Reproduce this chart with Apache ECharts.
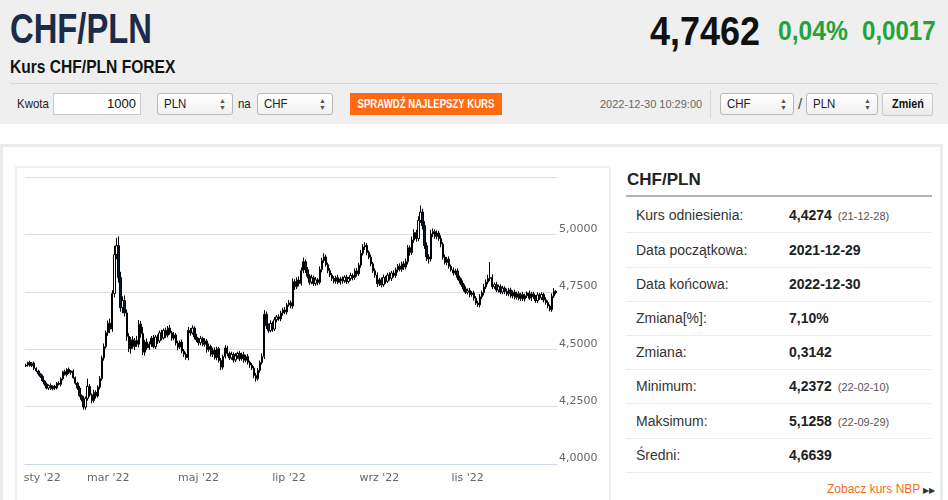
<!DOCTYPE html>
<html lang="pl">
<head>
<meta charset="UTF-8">
<title>CHF/PLN</title>
<style>
  body { margin: 0; padding: 0; width: 948px; height: 500px; overflow: hidden; background: #fff; font-family: 'Liberation Sans', Arial, sans-serif; position: relative; }
  .abs { position: absolute; white-space: nowrap; }
  .nw { display: inline-block; transform-origin: 0 50%; white-space: nowrap; }
  #head { left: 0; top: 0; width: 948px; height: 124px; background: #efefef; }
  .sel { height: 20px; border: 1px solid #b9b9b9; border-radius: 3px; background: linear-gradient(#ffffff, #f1f1f1); font-size: 13px; line-height: 20px; color: #222; }
  .sel span { position: absolute; left: 6px; top: 0; transform: scaleX(0.88); transform-origin: 0 50%; }
  .sel i { position: absolute; right: 6px; top: 3px; font-style: normal; font-size: 7px; line-height: 7px; color: #555; }
  #panel .row { position: absolute; left: 626px; width: 306px; height: 34px; border-bottom: 1px solid #ececec; font-size: 14px; color: #333; }
  #panel .row .l { position: absolute; left: 10px; top: 9px; }
  #panel .row .v { position: absolute; left: 163px; top: 9px; font-weight: bold; color: #222; }
  #panel .row .d { font-size: 11px; font-weight: normal; color: #555; margin-left: 6px; }
  #chart { position: absolute; left: 0; top: 0; width: 948px; height: 500px; }
</style>
</head>
<body>
<div id="head" class="abs">
  <div class="abs" style="left:10px;top:5px;font-size:42px;font-weight:bold;color:#1b2b48;"><span class="nw" style="transform:scaleX(0.78);">CHF/PLN</span></div>
  <div class="abs" style="left:10px;top:56px;font-size:19px;font-weight:bold;color:#111;"><span class="nw" style="transform:scaleX(0.82);">Kurs CHF/PLN FOREX</span></div>
  <div class="abs" style="left:650px;top:9px;font-size:40px;font-weight:bold;color:#111;"><span class="nw" style="transform:scaleX(0.9);">4,7462</span></div>
  <div class="abs" style="left:778px;top:15px;font-size:28px;font-weight:bold;color:#23a33a;"><span class="nw" style="transform:scaleX(0.88);">0,04%</span></div>
  <div class="abs" style="left:862px;top:15px;font-size:28px;font-weight:bold;color:#23a33a;"><span class="nw" style="transform:scaleX(0.86);">0,0017</span></div>
  <div class="abs" style="left:10px;top:83px;width:928px;height:1px;background:#d6d6d6;"></div>

  <div class="abs" style="left:17px;top:96px;font-size:13px;color:#222;"><span class="nw" style="transform:scaleX(0.88);">Kwota</span></div>
  <div class="abs" style="left:53px;top:93px;width:86px;height:20px;background:#fff;border:1px solid #c9c9c9;font-size:13px;line-height:20px;color:#111;"><span class="abs" style="right:4px;top:0;">1000</span></div>
  <div class="abs sel" style="left:157px;top:93px;width:74px;"><span>PLN</span><i>▲<br>▼</i></div>
  <div class="abs" style="left:238px;top:96px;font-size:13px;color:#222;"><span class="nw" style="transform:scaleX(0.88);">na</span></div>
  <div class="abs sel" style="left:257px;top:93px;width:74px;"><span>CHF</span><i>▲<br>▼</i></div>
  <div class="abs" style="left:350px;top:93px;width:152px;height:22px;background:#ff6a13;color:#fff;font-size:12px;font-weight:bold;line-height:22px;"><span class="abs" style="left:50%;top:0;transform:translateX(-50%) scaleX(0.8);">SPRAWDŹ NAJLEPSZY KURS</span></div>
  <div class="abs" style="left:600px;top:98px;font-size:11px;color:#666;">2022-12-30 10:29:00</div>
  <div class="abs" style="left:710px;top:90px;width:1px;height:28px;background:#d8d8d8;"></div>
  <div class="abs sel" style="left:720px;top:93px;width:72px;"><span>CHF</span><i>▲<br>▼</i></div>
  <div class="abs" style="left:798px;top:95px;font-size:15px;color:#444;">/</div>
  <div class="abs sel" style="left:806px;top:93px;width:70px;"><span>PLN</span><i>▲<br>▼</i></div>
  <div class="abs" style="left:882px;top:93px;width:49px;height:21px;border:1px solid #c9c9c9;border-radius:2px;background:linear-gradient(#fdfdfd,#e9e9e9);font-size:12px;font-weight:bold;line-height:21px;color:#111;"><span class="abs" style="left:50%;top:0;transform:translateX(-50%) scaleX(0.9);">Zmień</span></div>
</div>

<div class="abs" style="left:0;top:144px;width:943px;height:356px;border-top:3px solid #ebebeb;border-left:3px solid #ebebeb;border-right:3px solid #ebebeb;box-sizing:border-box;"></div>
<div class="abs" style="left:15px;top:166px;width:596px;height:340px;border:2px solid #f1f1f1;box-sizing:border-box;"></div>

<div id="panel">
  <div class="abs" style="left:627px;top:170px;font-size:17px;font-weight:bold;color:#222;">CHF/PLN</div>
  <div class="abs" style="left:626px;top:195px;width:306px;height:2px;background:#b4b4b4;"></div>
  <div class="row" style="top:198px;"><span class="l">Kurs odniesienia:</span><span class="v">4,4274<span class="d">(21-12-28)</span></span></div>
  <div class="row" style="top:233px;"><span class="l">Data początkowa:</span><span class="v">2021-12-29</span></div>
  <div class="row" style="top:267px;"><span class="l">Data końcowa:</span><span class="v">2022-12-30</span></div>
  <div class="row" style="top:301px;"><span class="l">Zmiana[%]:</span><span class="v">7,10%</span></div>
  <div class="row" style="top:335px;"><span class="l">Zmiana:</span><span class="v">0,3142</span></div>
  <div class="row" style="top:369px;"><span class="l">Minimum:</span><span class="v">4,2372<span class="d">(22-02-10)</span></span></div>
  <div class="row" style="top:404px;"><span class="l">Maksimum:</span><span class="v">5,1258<span class="d">(22-09-29)</span></span></div>
  <div class="row" style="top:438px;"><span class="l">Średni:</span><span class="v">4,6639</span></div>
  <div class="abs" style="left:827px;top:482px;font-size:12px;color:#f26b1d;">Zobacz kurs NBP <span style="color:#333;font-size:8px;">▶▶</span></div>
</div>

<div id="chart"></div>

<script src="https://cdn.jsdelivr.net/npm/echarts@6.0.0/dist/echarts.min.js"></script>
<script>
// kurs odniesienia (otwarcie pierwszej świecy)
var refRate = 4.4274;

// zamknięcia dzienne CHF/PLN (dni robocze od 2022-01-04)
var closes = [
  4.431, 4.442, 4.428, 4.439, 4.417, 4.405, 4.392, 4.381, 4.362, 4.348,
  4.331, 4.342, 4.328, 4.339, 4.331, 4.352, 4.347, 4.371, 4.402, 4.389,
  4.412, 4.398, 4.405, 4.376, 4.352, 4.331, 4.298, 4.281, 4.248, 4.286,
  4.338, 4.301, 4.276, 4.312, 4.296, 4.335, 4.372, 4.462, 4.511, 4.572,
  4.613, 4.588, 4.742, 4.912, 4.951, 4.812, 4.681, 4.712, 4.658, 4.556,
  4.502, 4.541, 4.512, 4.538, 4.522, 4.609, 4.568, 4.487, 4.531, 4.506,
  4.522, 4.548, 4.511, 4.553, 4.536, 4.571, 4.549, 4.582, 4.561, 4.592,
  4.571, 4.548, 4.562, 4.527, 4.509, 4.531, 4.492, 4.478, 4.463, 4.582,
  4.571, 4.592, 4.553, 4.541, 4.528, 4.547, 4.521, 4.536, 4.498, 4.512,
  4.478, 4.496, 4.463, 4.502, 4.451, 4.422, 4.468, 4.505, 4.481, 4.462,
  4.478, 4.453, 4.471, 4.482, 4.458, 4.476, 4.452, 4.468, 4.443, 4.431,
  4.418, 4.385, 4.372, 4.408, 4.442, 4.468, 4.652, 4.602, 4.581, 4.612,
  4.588, 4.628, 4.641, 4.632, 4.658, 4.671, 4.662, 4.693, 4.702, 4.688,
  4.795, 4.772, 4.801, 4.786, 4.842, 4.881, 4.846, 4.818, 4.792, 4.811,
  4.786, 4.802, 4.791, 4.847, 4.886, 4.902, 4.868, 4.842, 4.823, 4.808,
  4.796, 4.812, 4.791, 4.806, 4.798, 4.814, 4.795, 4.808, 4.821, 4.812,
  4.841, 4.828, 4.866, 4.918, 4.945, 4.952, 4.921, 4.901, 4.872, 4.842,
  4.823, 4.785, 4.802, 4.781, 4.812, 4.796, 4.823, 4.809, 4.832, 4.821,
  4.846, 4.862, 4.848, 4.872, 4.858, 4.881, 4.942, 4.921, 4.975, 5.008,
  4.982, 5.061, 5.097, 5.038, 4.951, 4.902, 4.893, 5.002, 5.012, 4.991,
  5.006, 4.982, 4.958, 4.901, 4.878, 4.892, 4.861, 4.846, 4.832, 4.841,
  4.812, 4.798, 4.781, 4.762, 4.748, 4.756, 4.738, 4.745, 4.722, 4.701,
  4.693, 4.728, 4.746, 4.771, 4.792, 4.808, 4.812, 4.772, 4.781, 4.758,
  4.772, 4.749, 4.766, 4.752, 4.741, 4.758, 4.732, 4.748, 4.726, 4.742,
  4.721, 4.738, 4.719, 4.733, 4.745, 4.722, 4.741, 4.728, 4.712, 4.736,
  4.724, 4.738, 4.715, 4.703, 4.688, 4.672, 4.731, 4.752, 4.746
];

// górne i dolne knoty świec, w tysięcznych złotego
var upperWick = [
  6, 4, 8, 5, 7, 4, 6, 5, 8, 4,
  7, 5, 9, 4, 6, 5, 8, 6, 4, 9,
  5, 8, 4, 7, 5, 6, 9, 5, 14, 8,
  34, 10, 7, 12, 9, 8, 11, 10, 14, 9,
  12, 20, 15, 38, 34, 40, 25, 18, 22, 15,
  14, 12, 16, 10, 20, 18, 14, 28, 10, 16,
  12, 9, 14, 8, 11, 10, 13, 8, 12, 9,
  14, 9, 12, 8, 10, 7, 11, 9, 8, 15,
  10, 12, 8, 14, 9, 11, 7, 12, 9, 13,
  8, 10, 12, 9, 7, 11, 8, 13, 10, 9,
  11, 8, 12, 7, 10, 9, 13, 8, 11, 7,
  9, 8, 12, 10, 9, 14, 18, 12, 10, 14,
  9, 12, 8, 11, 10, 9, 13, 8, 12, 10,
  14, 10, 12, 16, 14, 18, 10, 12, 9, 14,
  10, 12, 8, 14, 12, 16, 10, 9, 11, 8,
  10, 8, 12, 9, 11, 8, 10, 7, 12, 9,
  11, 13, 10, 15, 12, 14, 10, 9, 12, 8,
  10, 12, 9, 11, 13, 8, 10, 12, 9, 11,
  10, 9, 12, 10, 11, 14, 12, 10, 16, 14,
  12, 18, 29, 15, 20, 14, 12, 18, 14, 10,
  12, 10, 14, 9, 11, 10, 12, 8, 10, 9,
  11, 9, 10, 8, 12, 9, 11, 8, 10, 9,
  10, 12, 9, 14, 12, 16, 68, 14, 10, 12,
  9, 11, 10, 8, 12, 9, 10, 8, 11, 9,
  10, 8, 12, 9, 7, 11, 9, 10, 8, 11,
  9, 10, 8, 11, 9, 7, 12, 14, 6
];
var lowerWick = [
  5, 7, 4, 6, 8, 5, 7, 6, 4, 8,
  6, 9, 5, 7, 8, 6, 5, 9, 7, 4,
  8, 6, 9, 5, 7, 8, 6, 9, 11, 12,
  10, 8, 12, 9, 11, 7, 10, 9, 12, 8,
  14, 18, 12, 16, 20, 22, 18, 24, 16, 20,
  14, 22, 10, 16, 12, 14, 18, 12, 15, 10,
  9, 12, 8, 10, 13, 9, 11, 7, 12, 10,
  8, 12, 9, 11, 14, 8, 10, 12, 9, 11,
  12, 8, 10, 9, 12, 11, 8, 10, 13, 9,
  10, 12, 8, 11, 9, 13, 10, 8, 12, 9,
  8, 11, 9, 12, 10, 8, 11, 9, 10, 12,
  9, 11, 13, 8, 10, 9, 11, 14, 10, 8,
  12, 9, 11, 8, 10, 12, 9, 11, 8, 10,
  12, 14, 10, 12, 9, 11, 14, 10, 12, 9,
  11, 10, 13, 9, 12, 10, 8, 11, 9, 10,
  9, 11, 8, 10, 12, 9, 11, 8, 10, 12,
  10, 12, 9, 11, 10, 13, 12, 9, 11, 10,
  12, 14, 10, 12, 9, 11, 8, 10, 12, 9,
  10, 12, 9, 11, 13, 10, 12, 14, 10, 12,
  14, 12, 10, 16, 14, 18, 20, 12, 14, 10,
  12, 10, 14, 11, 9, 12, 10, 8, 11, 9,
  10, 12, 9, 11, 8, 10, 12, 9, 11, 8,
  9, 11, 10, 12, 9, 10, 12, 11, 9, 10,
  11, 9, 10, 12, 9, 10, 8, 11, 9, 10,
  8, 10, 9, 11, 10, 8, 12, 9, 10, 11,
  9, 10, 11, 9, 10, 7, 9, 8, 7
];

var tickDates = ['2022-01-10', '2022-03-01', '2022-05-02', '2022-07-01', '2022-09-01', '2022-11-01'];
var tickLabels = ["sty '22", "mar '22", "maj '22", "lip '22", "wrz '22", "lis '22"];

var dates = [];
for (var d = new Date(Date.UTC(2022, 0, 4)); d <= new Date(Date.UTC(2022, 11, 30)); d.setUTCDate(d.getUTCDate() + 1)) {
  var wd = d.getUTCDay();
  if (wd !== 0 && wd !== 6) dates.push(d.toISOString().slice(0, 10));
}

var candles = closes.map(function (c, i) {
  var o = i === 0 ? refRate : closes[i - 1];
  var lo = Math.min(o, c) - lowerWick[i] / 1000;
  var hi = Math.max(o, c) + upperWick[i] / 1000;
  return [o, c, +lo.toFixed(4), +hi.toFixed(4)];
});

function isTick(idx, val) {
  return tickDates.indexOf(val) >= 0;
}

var chart = echarts.init(document.getElementById('chart'));
chart.setOption({
  animation: false,
  grid: { left: 25, right: 391, top: 177, bottom: 36 },
  xAxis: {
    type: 'category',
    data: dates,
    axisLine: { lineStyle: { color: '#ccd6eb', width: 1 } },
    axisTick: { alignWithLabel: true, interval: isTick, length: 9, lineStyle: { color: '#ccd6eb' } },
    axisLabel: {
      interval: isTick,
      formatter: function (v) {
        var k = tickDates.indexOf(v);
        return k === 0 ? '{f|' + tickLabels[k] + '}' : tickLabels[k];
      },
      rich: { f: { padding: [0, 0, 0, 16], color: '#666', fontFamily: 'DejaVu Sans', fontSize: 11 } },
      color: '#666',
      fontFamily: 'DejaVu Sans',
      fontSize: 11,
      margin: 9
    },
    splitLine: { show: false }
  },
  yAxis: {
    type: 'value',
    position: 'right',
    min: 4,
    max: 5.25,
    interval: 0.25,
    axisLine: { show: false },
    axisTick: { show: false },
    axisLabel: {
      formatter: function (v) { return v.toFixed(4).replace('.', ','); },
      showMaxLabel: false,
      color: '#666',
      fontFamily: 'DejaVu Sans',
      fontSize: 11,
      margin: 2,
      verticalAlign: 'bottom'
    },
    splitLine: { lineStyle: { color: '#dedede', width: 1 } }
  },
  series: [{
    type: 'candlestick',
    data: candles,
    barWidth: '90%',
    itemStyle: {
      color: '#ffffff',
      color0: '#0c1a30',
      borderColor: '#000000',
      borderColor0: '#000000',
      borderWidth: 1
    }
  }]
});
</script>
</body>
</html>
